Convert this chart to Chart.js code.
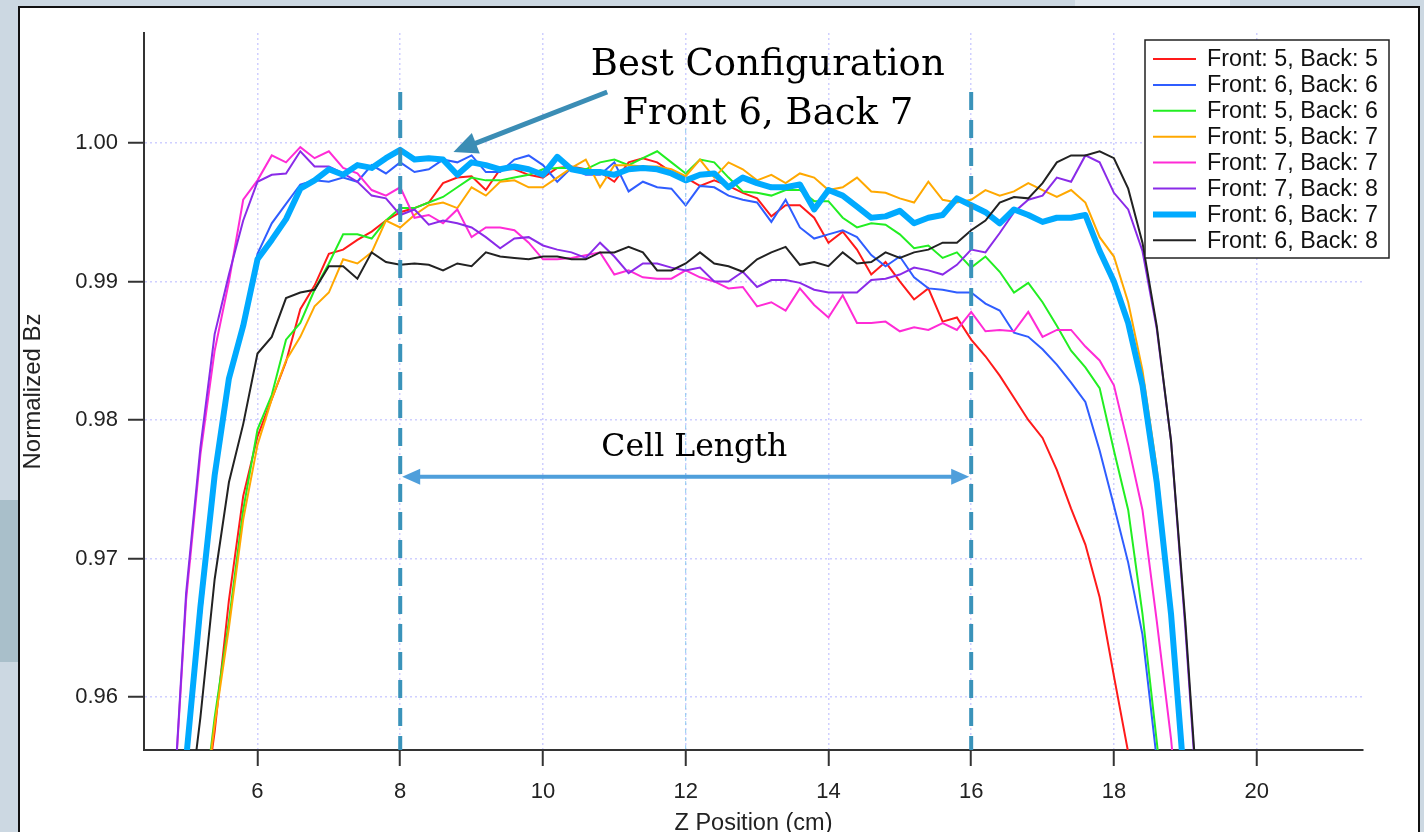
<!DOCTYPE html>
<html>
<head>
<meta charset="utf-8">
<script src="https://cdn.jsdelivr.net/npm/chart.js@4.4.1/dist/chart.umd.min.js"></script>
<style>
  html, body { margin: 0; padding: 0; overflow: hidden; }
  body { width: 1424px; height: 832px; background: #ccd8e2; position: relative; }
  .strip { position: absolute; left: 0; top: 500px; width: 18px; height: 162px; background: #a9bfca; }
  .patch { position: absolute; left: 1075px; top: 0; width: 155px; height: 6px; background: #dfe7ee; }
  .frame { position: absolute; left: 18px; top: 6px; width: 1398px; height: 860px; background: #fff; border: 2px solid #111; }
  #chart { position: absolute; left: 0; top: 0; }
</style>
</head>
<body>
<div class="strip"></div>
<div class="patch"></div>
<div class="frame"></div>
<canvas id="chart" width="1424" height="850"></canvas>
<script>
// z positions (cm), one reading every 0.2 cm
const zPos = [
  4.8, 5.0, 5.2, 5.4, 5.6, 5.8, 6.0, 6.2, 6.4, 6.6,
  6.8, 7.0, 7.2, 7.4, 7.6, 7.8, 8.0, 8.2, 8.4, 8.6,
  8.8, 9.0, 9.2, 9.4, 9.6, 9.8, 10.0, 10.2, 10.4, 10.6,
  10.8, 11.0, 11.2, 11.4, 11.6, 11.8, 12.0, 12.2, 12.4, 12.6,
  12.8, 13.0, 13.2, 13.4, 13.6, 13.8, 14.0, 14.2, 14.4, 14.6,
  14.8, 15.0, 15.2, 15.4, 15.6, 15.8, 16.0, 16.2, 16.4, 16.6,
  16.8, 17.0, 17.2, 17.4, 17.6, 17.8, 18.0, 18.2, 18.4, 18.6,
  18.8, 19.0, 19.2
];

// normalized Bz for each front/back coil setting
const f5b5 = [
  null, null, 0.9500, 0.9575, 0.9670, 0.9745, 0.9788, 0.9815, 0.9842, 0.9880,
  0.9897, 0.9920, 0.9923, 0.9930, 0.9936, 0.9944, 0.9950, 0.9953, 0.9957, 0.9971,
  0.9975, 0.9976, 0.9966, 0.9981, 0.9981, 0.9977, 0.9975, 0.9982, 0.9983, 0.9981,
  0.9979, 0.9972, 0.9986, 0.9989, 0.9986, 0.9979, 0.9975, 0.9969, 0.9973, 0.9969,
  0.9964, 0.9960, 0.9947, 0.9955, 0.9955, 0.9946, 0.9928, 0.9936, 0.9923, 0.9905,
  0.9914, 0.9900, 0.9887, 0.9895, 0.9871, 0.9874, 0.9858, 0.9846, 0.9832, 0.9816,
  0.9800, 0.9787, 0.9764, 0.9736, 0.9710, 0.9672, 0.9615, 0.9560, 0.9480, null,
  null, null, null
];
const f6b6 = [
  null, 0.9550, 0.9655, 0.9755, 0.9828, 0.9866, 0.9920, 0.9942, 0.9956, 0.9970,
  0.9973, 0.9972, 0.9975, 0.9972, 0.9984, 0.9978, 0.9986, 0.9979, 0.9981, 0.9988,
  0.9986, 0.9991, 0.9979, 0.9979, 0.9988, 0.9991, 0.9984, 0.9972, 0.9982, 0.9977,
  0.9977, 0.9986, 0.9965, 0.9972, 0.9968, 0.9967, 0.9955, 0.9969, 0.9968, 0.9962,
  0.9959, 0.9957, 0.9943, 0.9959, 0.9939, 0.9931, 0.9934, 0.9937, 0.9932, 0.9919,
  0.9911, 0.9918, 0.9903, 0.9895, 0.9894, 0.9892, 0.9892, 0.9884, 0.9879, 0.9863,
  0.9860, 0.9851, 0.9840, 0.9827, 0.9813, 0.9778, 0.9738, 0.9697, 0.9645, 0.9555,
  0.9450, null, null
];
const f5b6 = [
  null, null, 0.9500, 0.9585, 0.9655, 0.9735, 0.9793, 0.9818, 0.9858, 0.9870,
  0.9894, 0.9913, 0.9934, 0.9934, 0.9931, 0.9944, 0.9953, 0.9953, 0.9957, 0.9961,
  0.9968, 0.9975, 0.9973, 0.9973, 0.9975, 0.9977, 0.9981, 0.9982, 0.9982, 0.9981,
  0.9986, 0.9988, 0.9984, 0.9989, 0.9994, 0.9986, 0.9978, 0.9988, 0.9986, 0.9975,
  0.9965, 0.9964, 0.9962, 0.9966, 0.9966, 0.9958, 0.9958, 0.9946, 0.9939, 0.9942,
  0.9941, 0.9934, 0.9924, 0.9926, 0.9917, 0.9921, 0.9910, 0.9918, 0.9907, 0.9892,
  0.9899, 0.9885, 0.9868, 0.9850, 0.9838, 0.9823, 0.9778, 0.9735, 0.9660, 0.9568,
  0.9470, null, null
];
const f5b7 = [
  null, null, 0.9500, 0.9580, 0.9650, 0.9728, 0.9782, 0.9815, 0.9843, 0.9860,
  0.9882, 0.9892, 0.9916, 0.9913, 0.9921, 0.9944, 0.9939, 0.9948, 0.9955, 0.9957,
  0.9953, 0.9968, 0.9962, 0.9972, 0.9973, 0.9968, 0.9968, 0.9975, 0.9982, 0.9988,
  0.9968, 0.9984, 0.9984, 0.9983, 0.9983, 0.9981, 0.9976, 0.9988, 0.9975, 0.9986,
  0.9981, 0.9973, 0.9977, 0.9971, 0.9978, 0.9975, 0.9966, 0.9968, 0.9975, 0.9965,
  0.9964, 0.9960, 0.9957, 0.9972, 0.9959, 0.9957, 0.9959, 0.9966, 0.9962, 0.9965,
  0.9971, 0.9966, 0.9961, 0.9966, 0.9957, 0.9932, 0.9918, 0.9885, 0.9836, 0.9765,
  0.9665, 0.9535, null
];
const f7b7 = [
  0.9500, 0.9670, 0.9775, 0.9850, 0.9900, 0.9959, 0.9973, 0.9991, 0.9986, 0.9997,
  0.9989, 0.9994, 0.9982, 0.9978, 0.9966, 0.9962, 0.9968, 0.9946, 0.9948, 0.9942,
  0.9952, 0.9932, 0.9939, 0.9939, 0.9937, 0.9928, 0.9916, 0.9916, 0.9917, 0.9919,
  0.9921, 0.9905, 0.9908, 0.9903, 0.9902, 0.9902, 0.9908, 0.9903, 0.9900, 0.9895,
  0.9896, 0.9882, 0.9885, 0.9879, 0.9895, 0.9883, 0.9874, 0.9890, 0.9870, 0.9870,
  0.9871, 0.9864, 0.9867, 0.9865, 0.9870, 0.9865, 0.9878, 0.9864, 0.9865, 0.9864,
  0.9878, 0.9860, 0.9865, 0.9865, 0.9853, 0.9843, 0.9825, 0.9782, 0.9735, 0.9655,
  0.9570, 0.9460, null
];
const f7b8 = [
  0.9500, 0.9675, 0.9780, 0.9862, 0.9905, 0.9944, 0.9972, 0.9977, 0.9978, 0.9994,
  0.9983, 0.9983, 0.9978, 0.9972, 0.9962, 0.9960, 0.9948, 0.9952, 0.9941, 0.9944,
  0.9942, 0.9939, 0.9932, 0.9924, 0.9931, 0.9932, 0.9926, 0.9923, 0.9921, 0.9917,
  0.9928, 0.9918, 0.9906, 0.9913, 0.9913, 0.9910, 0.9908, 0.9910, 0.9900, 0.9900,
  0.9907, 0.9896, 0.9901, 0.9901, 0.9899, 0.9894, 0.9892, 0.9892, 0.9892, 0.9901,
  0.9902, 0.9905, 0.9910, 0.9908, 0.9905, 0.9912, 0.9923, 0.9921, 0.9935, 0.9950,
  0.9959, 0.9962, 0.9975, 0.9972, 0.9991, 0.9986, 0.9964, 0.9952, 0.9922, 0.9866,
  0.9785, 0.9650, 0.9500
];
const f6b7 = [
  null, 0.9555, 0.9665, 0.9760, 0.9830, 0.9868, 0.9916, 0.9930, 0.9945, 0.9967,
  0.9973, 0.9981, 0.9977, 0.9984, 0.9982, 0.9989, 0.9995, 0.9988, 0.9989, 0.9988,
  0.9977, 0.9986, 0.9984, 0.9981, 0.9983, 0.9981, 0.9977, 0.9990, 0.9981, 0.9979,
  0.9979, 0.9977, 0.9981, 0.9982, 0.9981, 0.9978, 0.9973, 0.9977, 0.9978, 0.9968,
  0.9975, 0.9971, 0.9968, 0.9968, 0.9970, 0.9952, 0.9966, 0.9962, 0.9954, 0.9946,
  0.9947, 0.9951, 0.9942, 0.9946, 0.9948, 0.9960, 0.9955, 0.9950, 0.9942, 0.9952,
  0.9948, 0.9943, 0.9946, 0.9946, 0.9948, 0.9922, 0.9900, 0.9870, 0.9825, 0.9755,
  0.9660, 0.9530, null
];
const f6b8 = [
  null, 0.9500, 0.9585, 0.9685, 0.9755, 0.9797, 0.9848, 0.9860, 0.9888, 0.9892,
  0.9894, 0.9911, 0.9911, 0.9902, 0.9921, 0.9914, 0.9912, 0.9913, 0.9912, 0.9908,
  0.9913, 0.9911, 0.9921, 0.9918, 0.9917, 0.9916, 0.9918, 0.9918, 0.9916, 0.9916,
  0.9921, 0.9921, 0.9925, 0.9921, 0.9908, 0.9908, 0.9913, 0.9921, 0.9913, 0.9911,
  0.9907, 0.9916, 0.9921, 0.9925, 0.9912, 0.9914, 0.9911, 0.9921, 0.9913, 0.9914,
  0.9921, 0.9917, 0.9921, 0.9923, 0.9928, 0.9928, 0.9937, 0.9944, 0.9957, 0.9961,
  0.9960, 0.9971, 0.9986, 0.9991, 0.9991, 0.9994, 0.9989, 0.9967, 0.9928, 0.9868,
  0.9785, 0.9655, 0.9505
];

const seriesNames = [
  'Front: 5, Back: 5', 'Front: 6, Back: 6', 'Front: 5, Back: 6', 'Front: 5, Back: 7',
  'Front: 7, Back: 7', 'Front: 7, Back: 8', 'Front: 6, Back: 7', 'Front: 6, Back: 8'
];
const seriesValues = [f5b5, f6b6, f5b6, f5b7, f7b7, f7b8, f6b7, f6b8];
const seriesColors = ['#ff1a1a', '#2f5dff', '#22ee22', '#ffa800', '#ff2bd6', '#8a2be8', '#00aaff', '#222222'];
const seriesWidths = [2, 2, 2, 2, 2, 2, 6, 2];

const xTicks = [6, 8, 10, 12, 14, 16, 18, 20];
const yTicks = [0.96, 0.97, 0.98, 0.99, 1.00];
const xRange = [4.41, 21.49];
const yRange = [0.95617, 1.00794];

// cell ends and centre (cm)
const cellBounds = [8, 16];
const cellCenter = 12;

const gridColor = 'rgba(175,175,255,0.6)';

const datasets = seriesValues.map((vals, i) => ({
  label: seriesNames[i],
  data: zPos.map((z, j) => ({ x: z, y: vals[j] })),
  borderColor: seriesColors[i],
  borderWidth: seriesWidths[i],
  borderJoinStyle: i === 6 ? 'round' : 'miter',
  pointRadius: 0,
  tension: 0,
  order: 7 - i
}));

// dashed cell markers
cellBounds.forEach(z => {
  datasets.push({
    data: [{ x: z, y: 1.00368 }, { x: z, y: yRange[0] - 0.001 }],
    borderColor: '#3a93ba',
    borderWidth: 4,
    borderDash: [18, 10],
    pointRadius: 0,
    order: -1
  });
});
datasets.push({
  data: [{ x: cellCenter, y: 1.001 }, { x: cellCenter, y: yRange[0] }],
  borderColor: '#8fcbef',
  borderWidth: 1,
  borderDash: [4, 4],
  pointRadius: 0,
  order: -1
});

function head(ctx, tx, ty, ang, len, half) {
  const c = Math.cos(ang), s = Math.sin(ang);
  ctx.beginPath();
  ctx.moveTo(tx, ty);
  ctx.lineTo(tx - len * c + half * s, ty - len * s - half * c);
  ctx.lineTo(tx - len * c - half * s, ty - len * s + half * c);
  ctx.closePath();
  ctx.fill();
}

const notes = {
  id: 'notes',
  afterDatasetsDraw(chart) {
    const { ctx, scales: { x, y } } = chart;
    ctx.save();

    // cell length arrow
    const ay = y.getPixelForValue(0.9759);
    const a1 = x.getPixelForValue(cellBounds[0]);
    const a2 = x.getPixelForValue(cellBounds[1]);
    ctx.strokeStyle = ctx.fillStyle = '#4f9fdb';
    ctx.lineWidth = 4;
    ctx.beginPath();
    ctx.moveTo(a1 + 12, ay);
    ctx.lineTo(a2 - 12, ay);
    ctx.stroke();
    head(ctx, a1 + 2, ay, Math.PI, 18, 8);
    head(ctx, a2 - 2, ay, 0, 18, 8);

    // best configuration pointer
    const bx1 = x.getPixelForValue(10.90), by1 = y.getPixelForValue(1.00368);
    const bx2 = x.getPixelForValue(8.746), by2 = y.getPixelForValue(0.99935);
    const ang = Math.atan2(by2 - by1, bx2 - bx1);
    ctx.strokeStyle = ctx.fillStyle = '#3b8db5';
    ctx.lineWidth = 5;
    ctx.beginPath();
    ctx.moveTo(bx1, by1);
    ctx.lineTo(bx2 - 18 * Math.cos(ang), by2 - 18 * Math.sin(ang));
    ctx.stroke();
    head(ctx, bx2, by2, ang, 24, 11);

    ctx.fillStyle = '#000';
    ctx.textAlign = 'center';
    ctx.textBaseline = 'alphabetic';
    ctx.font = '37px "DejaVu Serif"';
    ctx.fillText('Best Configuration', x.getPixelForValue(13.15), y.getPixelForValue(1.00491));
    ctx.fillText('Front 6, Back 7', x.getPixelForValue(13.15), y.getPixelForValue(1.00137));
    ctx.font = '31.5px "DejaVu Serif"';
    ctx.fillText('Cell Length', x.getPixelForValue(12.12), y.getPixelForValue(0.9774));
    ctx.restore();
  },
  afterDraw(chart) {
    // legend box, top right inside the plot
    const ctx = chart.ctx;
    const L = 1145, T = 40, W = 244, H = 218;
    ctx.save();
    ctx.fillStyle = '#fff';
    ctx.fillRect(L, T, W, H);
    ctx.strokeStyle = '#222';
    ctx.lineWidth = 1.5;
    ctx.strokeRect(L, T, W, H);
    ctx.font = '23.3px "Liberation Sans"';
    ctx.textAlign = 'left';
    ctx.textBaseline = 'middle';
    seriesNames.forEach((name, i) => {
      const ry = 59 + i * 25.9;
      ctx.strokeStyle = seriesColors[i];
      ctx.lineWidth = seriesWidths[i];
      ctx.beginPath();
      ctx.moveTo(1153, ry);
      ctx.lineTo(1196, ry);
      ctx.stroke();
      ctx.fillStyle = '#111';
      ctx.fillText(name, 1207, ry + 1);
    });
    ctx.restore();
  }
};

Chart.defaults.font.family = '"Liberation Sans", Arial, sans-serif';
Chart.defaults.font.size = 22;
Chart.defaults.color = '#222';

new Chart(document.getElementById('chart'), {
  type: 'line',
  data: { datasets },
  options: {
    responsive: false,
    animation: false,
    devicePixelRatio: 1,
    events: [],
    spanGaps: false,
    layout: { padding: { left: 0, top: 33, right: 61, bottom: 0 } },
    plugins: { legend: { display: false }, tooltip: { enabled: false } },
    scales: {
      x: {
        type: 'linear',
        min: xRange[0],
        max: xRange[1],
        afterBuildTicks: s => { s.ticks = xTicks.map(v => ({ value: v })); },
        afterFit: s => { s.height = 100; },
        grid: { color: gridColor, lineWidth: 1.5, tickLength: 16, tickColor: '#333', tickWidth: 2, tickBorderDash: [] },
        border: { color: '#333', width: 2, dash: [2, 3] },
        ticks: { padding: 13, maxRotation: 0, callback: v => String(v) },
        title: { display: true, text: 'Z Position (cm)', font: { size: 23.5 }, padding: { top: 0, bottom: 12 } }
      },
      y: {
        type: 'linear',
        min: yRange[0],
        max: yRange[1],
        afterBuildTicks: s => { s.ticks = yTicks.map(v => ({ value: v })); },
        afterFit: s => { s.width = 144; },
        grid: { color: gridColor, lineWidth: 1.5, tickLength: 16, tickColor: '#333', tickWidth: 2, tickBorderDash: [] },
        border: { color: '#333', width: 2, dash: [2, 3] },
        ticks: { padding: 10, callback: v => v.toFixed(2) },
        title: { display: true, text: 'Normalized Bz', font: { size: 24 }, padding: { top: 19, bottom: 0 } }
      }
    }
  },
  plugins: [notes]
});
</script>
</body>
</html>
